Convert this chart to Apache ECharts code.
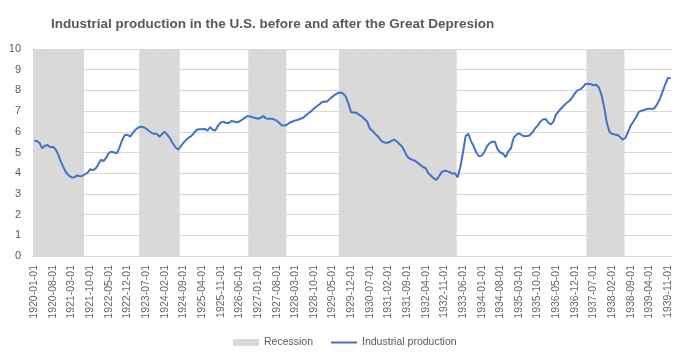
<!DOCTYPE html>
<html>
<head>
<meta charset="utf-8">
<script src="https://cdn.jsdelivr.net/npm/echarts@6/dist/echarts.min.js"></script>
<style>html,body{margin:0;padding:0;background:#fff}#c{width:688px;height:360px}</style>
</head>
<body>
<div id="c"></div>
<script>
var startYear = 1920, endYear = 1939;
var months = [];
for (var y = startYear; y <= endYear; y++) {
  for (var m = 1; m <= 12; m++) {
    months.push(y + '-' + (m < 10 ? '0' + m : m) + '-01');
  }
}
// Recession periods (first month, last month)
var recessions = [
  ['1920-01-01', '1921-07-01'],
  ['1923-05-01', '1924-07-01'],
  ['1926-10-01', '1927-11-01'],
  ['1929-08-01', '1933-03-01'],
  ['1937-05-01', '1938-06-01']
];
var recessionHeight = 10;
// Industrial production, monthly 1920-01 .. 1939-12
var production = [
  5.57,5.55,5.45,5.20,5.33,5.36,5.25,5.28,5.15,4.90,4.55,4.27,
  4.02,3.88,3.80,3.79,3.89,3.85,3.87,3.95,4.02,4.20,4.15,4.22,
  4.42,4.65,4.58,4.75,4.98,5.04,5.00,4.96,5.25,5.60,5.85,5.86,
  5.77,5.95,6.10,6.20,6.25,6.22,6.15,6.05,5.95,5.90,5.90,5.76,
  5.90,6.00,5.85,5.68,5.45,5.25,5.14,5.30,5.47,5.60,5.72,5.80,
  5.95,6.10,6.12,6.12,6.14,6.05,6.22,6.10,6.06,6.30,6.45,6.49,
  6.42,6.42,6.52,6.50,6.46,6.50,6.58,6.67,6.76,6.74,6.70,6.67,
  6.63,6.68,6.76,6.64,6.63,6.63,6.60,6.54,6.42,6.30,6.30,6.35,
  6.45,6.50,6.55,6.58,6.63,6.68,6.80,6.90,7.00,7.12,7.22,7.32,
  7.43,7.46,7.46,7.60,7.70,7.80,7.87,7.90,7.84,7.70,7.35,6.94,
  6.93,6.92,6.82,6.74,6.62,6.50,6.15,6.05,5.90,5.78,5.62,5.50,
  5.47,5.48,5.55,5.62,5.55,5.42,5.30,5.08,4.82,4.70,4.64,4.60,
  4.50,4.40,4.30,4.24,4.00,3.88,3.75,3.68,3.86,4.05,4.12,4.10,
  4.05,3.98,4.00,3.80,4.30,5.00,5.80,5.90,5.55,5.30,5.00,4.82,
  4.85,5.02,5.30,5.45,5.52,5.52,5.15,5.00,4.95,4.78,5.05,5.20,
  5.70,5.85,5.93,5.85,5.78,5.80,5.82,5.96,6.15,6.30,6.48,6.60,
  6.62,6.45,6.35,6.50,6.85,7.00,7.15,7.28,7.40,7.50,7.65,7.85,
  8.00,8.05,8.15,8.31,8.32,8.30,8.25,8.27,8.15,7.80,7.20,6.45,
  6.00,5.90,5.87,5.85,5.75,5.62,5.70,6.00,6.30,6.50,6.70,6.95,
  7.02,7.05,7.10,7.12,7.10,7.15,7.35,7.60,7.95,8.30,8.60,8.60
];
var yTicks = [0,1,2,3,4,5,6,7,8,9,10];

var recessionData = months.map(function (d) {
  for (var i = 0; i < recessions.length; i++) {
    if (d >= recessions[i][0] && d <= recessions[i][1]) return recessionHeight;
  }
  return null;
});

var font = "'Liberation Sans', Arial, sans-serif";
var chart = echarts.init(document.getElementById('c'), null, {renderer: 'canvas'});
chart.setOption({
  animation: false,
  backgroundColor: '#ffffff',
  title: {
    text: 'Industrial production in the U.S. before and after the Great Depresion',
    left: 46, top: 12,
    textStyle: {color: '#595959', fontSize: 13.5, fontWeight: 'bold', fontFamily: font}
  },
  legend: {
    left: 228, top: 332,
    itemWidth: 26, itemHeight: 7, itemGap: 18,
    textStyle: {color: '#595959', fontSize: 10.5, fontFamily: font},
    data: [
      {name: 'Recession', icon: 'rect'},
      {name: 'Industrial production', icon: 'path://M0,0L26,0L26,2L0,2Z'}
    ]
  },
  grid: {left: 33, right: 16, top: 49, bottom: 104},
  xAxis: {
    type: 'category',
    data: months,
    boundaryGap: true,
    axisLine: {show: true, lineStyle: {color: '#d9d9d9'}},
    axisTick: {show: false},
    axisLabel: {
      interval: 6, rotate: 90, margin: 9,
      color: '#666666', fontSize: 10.5, fontFamily: font
    },
    splitLine: {show: false}
  },
  yAxis: {
    type: 'value',
    min: yTicks[0], max: yTicks[yTicks.length - 1], interval: 1,
    axisLine: {show: false},
    axisTick: {show: false},
    axisLabel: {color: '#595959', fontSize: 11, margin: 12, fontFamily: font},
    splitLine: {lineStyle: {color: '#d9d9d9', width: 1}}
  },
  series: [
    {
      name: 'Recession', type: 'bar', data: recessionData,
      barWidth: 3.4, barGap: '-100%',
      itemStyle: {color: '#d9d9d9'},
      z: 1
    },
    {
      name: 'Industrial production', type: 'line', data: production,
      symbol: 'none', showSymbol: false, smooth: false,
      lineStyle: {color: '#4472c4', width: 2},
      itemStyle: {color: '#4472c4'},
      z: 3
    }
  ]
});
</script>
</body>
</html>
